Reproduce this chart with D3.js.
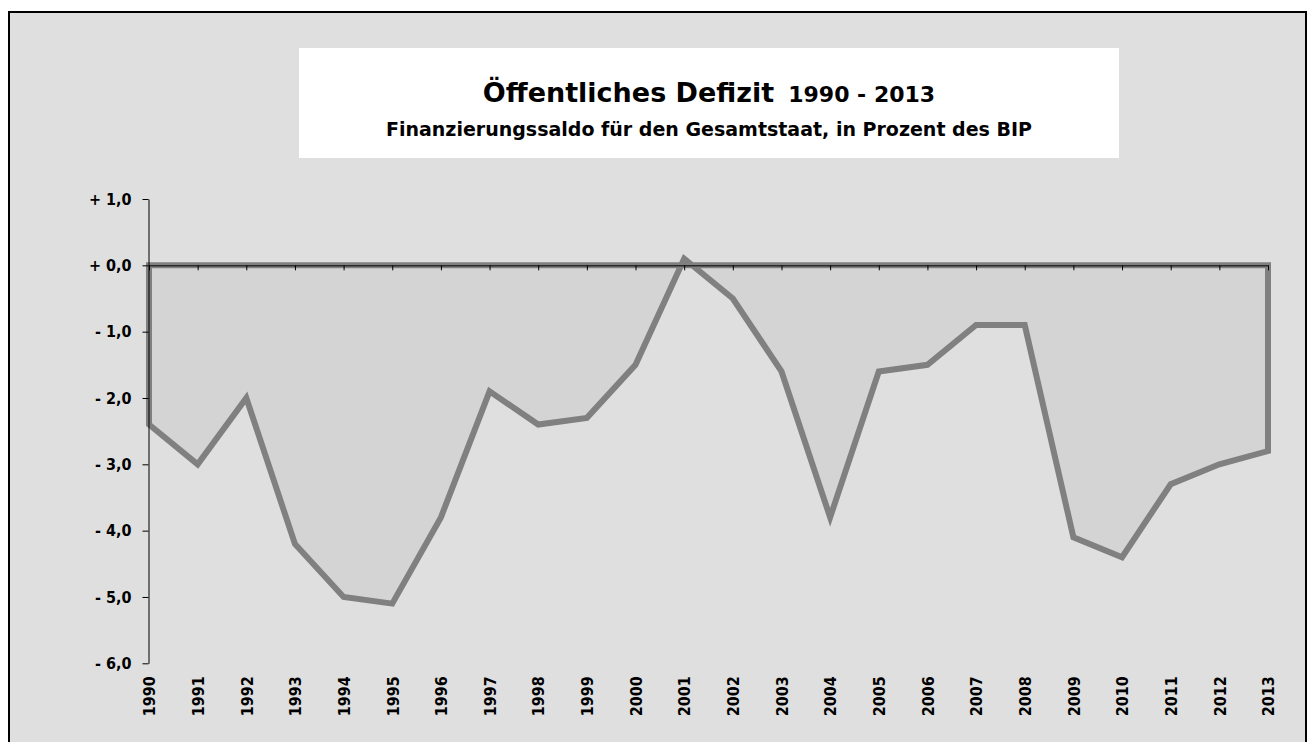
<!DOCTYPE html>
<html>
<head>
<meta charset="utf-8">
<script src="https://cdn.jsdelivr.net/npm/d3@7"></script>
<style>
  body { margin: 0; background: #ffffff; }
  svg { display: block; }
</style>
</head>
<body>
<script>
const years = [1990, 1991, 1992, 1993, 1994, 1995, 1996, 1997, 1998, 1999, 2000, 2001,
    2002, 2003, 2004, 2005, 2006, 2007, 2008, 2009, 2010, 2011, 2012, 2013];
// Finanzierungssaldo in % des BIP
const saldo = [-2.4, -3.0, -2.0, -4.2, -5.0, -5.1, -3.8, -1.9, -2.4, -2.3, -1.5, 0.1,
    -0.5, -1.6, -3.8, -1.6, -1.5, -0.9, -0.9, -4.1, -4.4, -3.3, -3.0, -2.8];
const yTicks = [1, 0, -1, -2, -3, -4, -5, -6];

const title = 'Öffentliches Defizit';
const titleYears = '1990 - 2013';
const subtitle = 'Finanzierungssaldo für den Gesamtstaat, in Prozent des BIP';

const [width, height] = [1309, 742];
const font = '"DejaVu Sans Condensed", "DejaVu Sans", sans-serif';
const titleFont = '"DejaVu Sans", sans-serif';

const data = years.map((yr, i) => ({year: yr, value: saldo[i]}));

const svg = d3.select('body').append('svg')
    .attr('width', width)
    .attr('height', height)
    .attr('viewBox', [0, 0, width, height]);

// chart area with black frame
svg.append('rect')
    .attr('x', 9).attr('y', 12)
    .attr('width', 1297).attr('height', height)
    .attr('fill', '#dfdfdf')
    .attr('stroke', '#000')
    .attr('stroke-width', 2);

const x = d3.scalePoint()
    .domain(years)
    .range([149, 1268]);

const y = d3.scaleLinear()
    .domain([-6, 1])
    .range([663.3, 199]);

const area = d3.area()
    .x(d => x(d.year))
    .y0(y(0))
    .y1(d => y(d.value));

svg.append('path')
    .datum(data)
    .attr('d', area)
    .attr('fill', '#d4d4d4')
    .attr('stroke', '#808080')
    .attr('stroke-width', 6)
    .attr('stroke-linejoin', 'miter');

const fmt = v => (v >= 0 ? '+ ' : '- ') + d3.format('.1f')(Math.abs(v)).replace('.', ',');

// y axis
svg.append('g')
    .attr('transform', 'translate(148.5,0)')
    .call(d3.axisLeft(y).tickValues(yTicks).tickSize(6).tickSizeOuter(0).tickPadding(11).tickFormat(fmt))
    .call(g => g.selectAll('line, path').attr('stroke', '#000'))
    .call(g => g.selectAll('text')
        .attr('fill', '#000')
        .attr('font-family', font)
        .attr('font-weight', 'bold')
        .attr('font-size', 16));

// x axis along zero line
svg.append('g')
    .attr('transform', `translate(0,${y(0)})`)
    .call(d3.axisBottom(x).tickSize(5).tickSizeOuter(0).tickFormat(''))
    .call(g => g.selectAll('line, path').attr('stroke', '#000'));

// year labels at the bottom
svg.append('g')
    .attr('transform', `translate(0,${y(-6)})`)
    .call(d3.axisBottom(x).tickSize(0).tickFormat(d => String(d)))
    .call(g => g.select('.domain').remove())
    .call(g => g.selectAll('text')
        .attr('transform', 'rotate(-90)')
        .attr('x', -13)
        .attr('y', 0)
        .attr('dy', '0.36em')
        .attr('text-anchor', 'end')
        .attr('fill', '#000')
        .attr('font-family', font)
        .attr('font-weight', 'bold')
        .attr('font-size', 16));

// title box
svg.append('rect')
    .attr('x', 299).attr('y', 48)
    .attr('width', 820).attr('height', 110)
    .attr('fill', '#ffffff');

const t = svg.append('text')
    .attr('x', 709).attr('y', 102)
    .attr('text-anchor', 'middle')
    .attr('font-family', titleFont)
    .attr('font-weight', 'bold')
    .attr('fill', '#000');
t.append('tspan').attr('font-size', 27).text(title);
t.append('tspan').attr('font-size', 22).attr('dx', 14).text(titleYears);

svg.append('text')
    .attr('x', 709).attr('y', 136)
    .attr('text-anchor', 'middle')
    .attr('font-family', titleFont)
    .attr('font-weight', 'bold')
    .attr('font-size', 19)
    .attr('fill', '#000')
    .text(subtitle);
</script>
</body>
</html>
